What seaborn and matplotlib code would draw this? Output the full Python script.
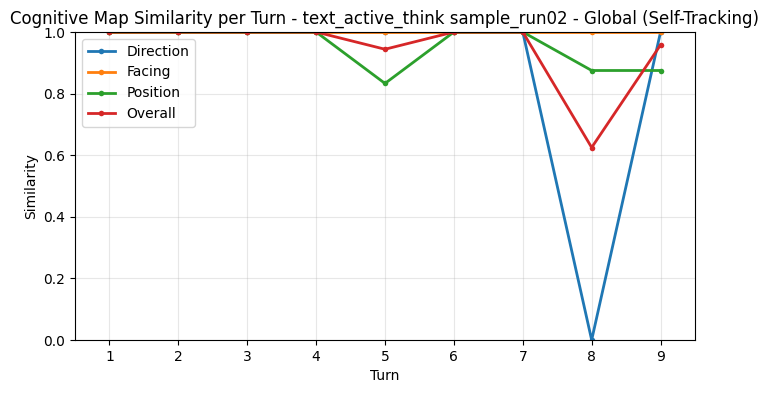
import matplotlib
matplotlib.use("Agg")
import matplotlib.pyplot as plt
import seaborn as sns
import pandas as pd

turns = [1, 2, 3, 4, 5, 6, 7, 8, 9]
direction = [1, 1, 1, 1, 1, 1, 1, 0.0, 1]
facing = [1, 1, 1, 1, 1, 1, 1, 1, 1]
position = [1, 1, 1, 1, 0.833, 1, 1, 0.875, 0.875]
overall = [1, 1, 1, 1, 0.944, 1, 1, 0.625, 0.958]
series_names = ["Direction", "Facing", "Position", "Overall"]
colors = ["#1f77b4", "#ff7f0e", "#2ca02c", "#d62728"]

rows = []
for name, vals in zip(series_names, [direction, facing, position, overall]):
    for t, v in zip(turns, vals):
        rows.append({"Turn": t, "Similarity": v, "Metric": name})
df = pd.DataFrame(rows)

fig = plt.figure(figsize=(7.69, 3.93), dpi=100)
ax = fig.add_axes([75/769, 1 - 340/393, 620/769, 308/393])
sns.lineplot(data=df, x="Turn", y="Similarity", hue="Metric", hue_order=series_names,
             palette=colors, marker="o", markersize=4, markeredgewidth=0, linewidth=2, ax=ax)
ax.set_ylim(0, 1)
ax.set_xlim(0.5, 9.5)
ax.set_xticks(turns)
ax.grid(True, alpha=0.3)
ax.set_title("Cognitive Map Similarity per Turn - text_active_think sample_run02 - Global (Self-Tracking)")
ax.set_xlabel("Turn")
ax.set_ylabel("Similarity")
ax.legend(loc="upper left", title=None)
fig.savefig("out.png", dpi=100)
